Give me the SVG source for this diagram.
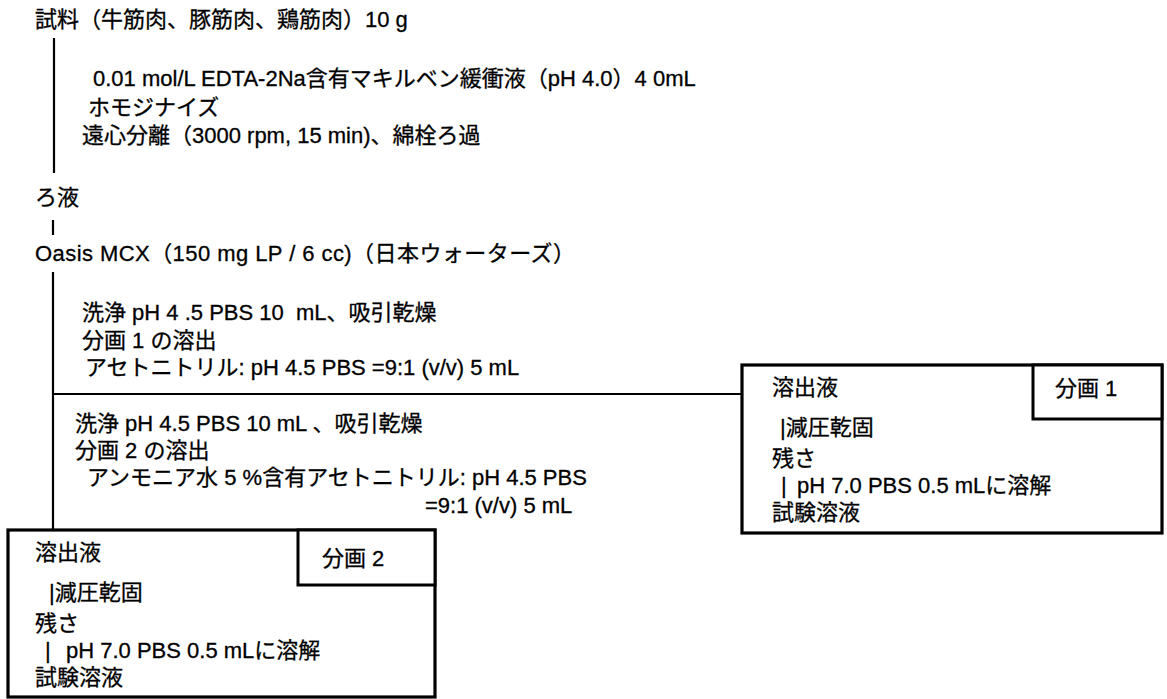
<svg xmlns="http://www.w3.org/2000/svg" width="1167" height="699" viewBox="0 0 1167 699">
<style>
text{font-family:"Liberation Sans","Noto Sans CJK JP",sans-serif;font-size:22px;fill:#000;stroke:#000;stroke-width:0.3;white-space:pre}
.ln{stroke:#000;stroke-width:2.2;fill:none}
.box{stroke:#000;stroke-width:3.2;fill:#fff}
.lbl{stroke:#000;stroke-width:3;fill:#fff}
</style>
<rect width="1167" height="699" fill="#fff"/>
<g id="connectors">
<line class="ln" x1="54" y1="38" x2="54" y2="173"/>
<line class="ln" x1="53" y1="220" x2="53" y2="235"/>
<line class="ln" x1="53" y1="272" x2="53" y2="545"/>
<line class="ln" x1="53" y1="394" x2="742" y2="394"/>
</g>
<g id="sample"><text x="35" y="27">試料（牛筋肉、豚筋肉、鶏筋肉）10 g</text></g>
<g id="step1">
<text x="93" y="86">0.01 mol/L EDTA-2Na含有マキルベン緩衝液（pH 4.0）4 0mL</text>
<text x="88" y="115">ホモジナイズ</text>
<text x="82" y="143">遠心分離（3000 rpm, 15 min)、綿栓ろ過</text>
</g>
<g id="filtrate"><text x="35" y="205">ろ液</text></g>
<g id="oasis"><text x="35" y="261" textLength="540" lengthAdjust="spacing">Oasis MCX（150 mg LP / 6 cc)（日本ウォーターズ）</text></g>
<g id="step-fr1">
<text x="82" y="320" xml:space="preserve">洗浄 pH 4 .5 PBS 10  mL、吸引乾燥</text>
<text x="82" y="348">分画 1 の溶出</text>
<text x="85" y="375">アセトニトリル: pH 4.5 PBS =9:1 (v/v) 5 mL</text>
</g>
<g id="step-fr2">
<text x="75" y="431">洗浄 pH 4.5 PBS 10 mL 、吸引乾燥</text>
<text x="75" y="458">分画 2 の溶出</text>
<text x="87" y="485">アンモニア水 5 %含有アセトニトリル: pH 4.5 PBS</text>
<text x="425" y="513">=9:1 (v/v) 5 mL</text>
</g>
<g id="box1">
<rect class="box" x="742" y="365" width="420" height="168"/>
<rect class="lbl" x="1033" y="365" width="129" height="54"/>
<text x="1055" y="396">分画 1</text>
<text x="772" y="395">溶出液</text>
<text x="780" y="435">|減圧乾固</text>
<text x="772" y="466">残さ</text>
<text x="781" y="493">|</text><text x="797" y="493">pH 7.0 PBS 0.5 mLに溶解</text>
<text x="772" y="520">試験溶液</text>
</g>
<g id="box2">
<rect class="box" x="8" y="530" width="427" height="167"/>
<rect class="lbl" x="298" y="530" width="137" height="55"/>
<text x="322" y="566">分画 2</text>
<text x="35" y="560">溶出液</text>
<text x="49" y="600">|減圧乾固</text>
<text x="35" y="631">残さ</text>
<text x="45" y="658">|</text><text x="66" y="658">pH 7.0 PBS 0.5 mLに溶解</text>
<text x="35" y="685">試験溶液</text>
</g>
</svg>
